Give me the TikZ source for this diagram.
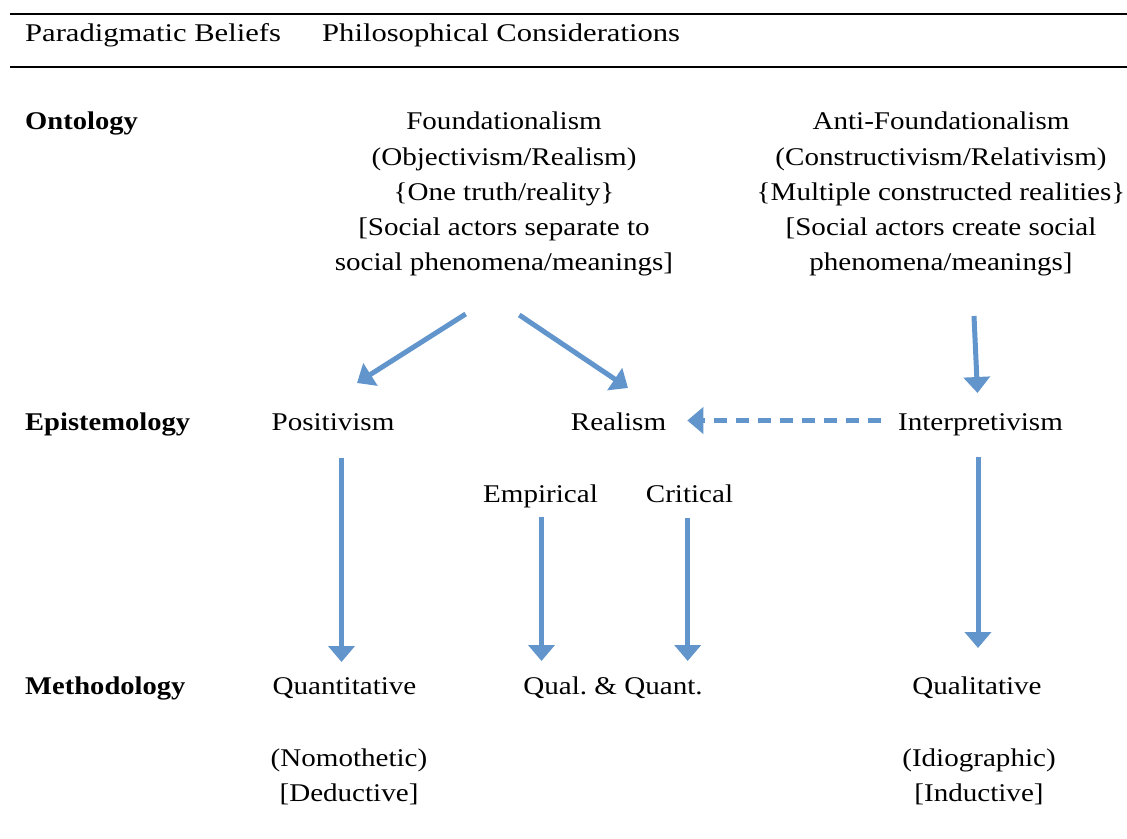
\documentclass[tikz,border=0pt]{standalone}
\usepackage{fontspec}
\setmainfont{Liberation Serif}[FakeStretch=1.14,BoldFeatures={FakeStretch=1.12}]
\usetikzlibrary{arrows.meta}
\definecolor{arrowblue}{RGB}{97,149,204}
\newcommand{\firstline}{\rule{0pt}{22pt}}
\frenchspacing
\begin{document}
\begin{tikzpicture}[x=1pt,y=-1pt,
  txt/.style={inner sep=0pt,font=\fontsize{25.5}{35.3}\selectfont},
  lab/.style={txt,anchor=base west},
  headlab/.style={lab,font=\fontsize{25.5}{35.3}\selectfont\addfontfeatures{FakeStretch=1.2}},
  cen/.style={txt,anchor=base},
  block/.style={txt,anchor=north,align=center},
  rowhead/.style={lab,font=\fontsize{25.5}{35.3}\selectfont\bfseries},
  arr/.style={draw=arrowblue,line width=5pt,-{Triangle[width=26pt,length=16pt,fill=arrowblue]}},
  darr/.style={arr,dash pattern=on 13pt off 9pt}]
\useasboundingbox (0,0) rectangle (1127,838);

% header rules and column titles
\draw[line width=2.5pt] (10,14) -- (1127,14);
\draw[line width=2.5pt] (10,67) -- (1127,67);
\node[headlab] (hpb) at (25,41) {Paradigmatic Beliefs};
\node[headlab] (hpc) at (322,41) {Philosophical Considerations};

% row headings
\node[rowhead] (onto) at (25,129.5) {Ontology};
\node[rowhead] (epis) at (25,430) {Epistemology};
\node[rowhead] (meth) at (25,694) {Methodology};

% ontology
\node[block] (found) at (504,107.5) {\firstline Foundationalism\\(Objectivism/Realism)\\\{One truth/reality\}\\{[}Social actors separate to\\social phenomena/meanings]};
\node[block] (anti) at (941,107.5) {\firstline Anti-Foundationalism\\(Constructivism/Relativism)\\\{Multiple constructed realities\}\\{[}Social actors create social\\phenomena/meanings]};

% epistemology
\node[cen] (posit) at (333,430) {Positivism};
\node[cen] (real) at (618.5,430) {Realism};
\node[cen] (interp) at (980.5,430) {Interpretivism};
\node[cen] (emp) at (540.5,502) {Empirical};
\node[cen] (crit) at (689.5,502) {Critical};

% methodology
\node[cen] (quant) at (344.5,694) {Quantitative};
\node[cen] (mixed) at (613,694) {Qual. \& Quant.};
\node[cen] (qual) at (977,694) {Qualitative};
\node[block] (nomo) at (349,744) {\firstline (Nomothetic)\\{[}Deductive]};
\node[block] (idio) at (979,744) {\firstline (Idiographic)\\{[}Inductive]};

% connector end points
\coordinate (f1) at (465.7,314);
\coordinate (p1) at (357,383);
\coordinate (f2) at (519.3,315);
\coordinate (r1) at (628,388);
\coordinate (a1) at (974,316);
\coordinate (i1) at (977.5,393);
\coordinate (i2) at (880.7,420.5);
\coordinate (r2) at (687.3,420.5);
\coordinate (p2) at (341.5,458);
\coordinate (q1) at (341.5,662);
\coordinate (e1) at (541.5,517);
\coordinate (e2) at (541.5,661);
\coordinate (c1) at (687.7,518);
\coordinate (c2) at (687.7,661);
\coordinate (i3) at (978,457);
\coordinate (l1) at (978,648);

% connectors
\draw[arr] (f1) -- (p1);
\draw[arr] (f2) -- (r1);
\draw[arr] (a1) -- (i1);
\draw[darr] (i2) -- (r2);
\draw[arr] (p2) -- (q1);
\draw[arr] (e1) -- (e2);
\draw[arr] (c1) -- (c2);
\draw[arr] (i3) -- (l1);
\end{tikzpicture}
\end{document}
